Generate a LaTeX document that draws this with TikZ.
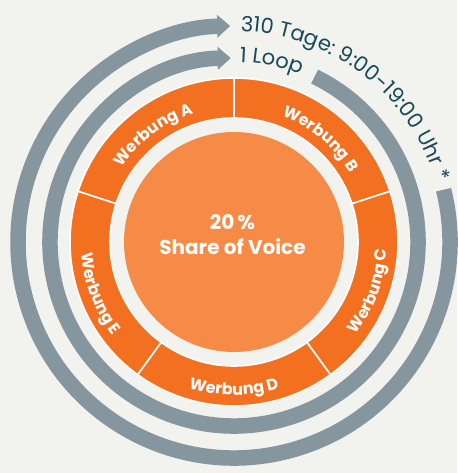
\documentclass[tikz,border=0pt]{standalone}
\usepackage{fontspec}
\setmainfont{Poppins}
\usetikzlibrary{arrows.meta,decorations.text}
\definecolor{bg}{HTML}{F2F2EE}
\definecolor{ringc}{HTML}{F37021}
\definecolor{corec}{HTML}{F68B47}
\definecolor{arcc}{HTML}{85969F}
\definecolor{ink}{HTML}{17495A}
\begin{document}
\begin{tikzpicture}[x=1pt,y=1pt,
  loopband/.style={draw=arcc, line width=15.5pt, -{Triangle[length=13pt,width=22pt]}},
  segment/.style={fill=ringc, draw=white, line width=1.6pt},
  seglabel/.style={decorate, decoration={text along path, text align=center,
     text={|\bfseries\fontsize{16}{16}\selectfont\color{white}|#1}}},
  arclabel/.style={decorate, decoration={text along path, text align=left,
     text={|\fontsize{21}{21}\selectfont\color{ink}|#1}}}]
\fill[bg] (0,0) rectangle (457,-473);
\useasboundingbox (0,0) rectangle (457,-473);
\coordinate (c) at (234,-242);
\begin{scope}[shift={(c)}]
  % ring segments
  \foreach \a/\b in {90/162, 18/90, -54/18, -126/-54, 162/234}
    \draw[segment] (\a:124) -- (\a:164) arc[start angle=\a, end angle=\b, radius=164]
      -- (\b:124) arc[start angle=\b, end angle=\a, radius=124] -- cycle;
  % core
  \node[circle, fill=corec, minimum size=220pt, inner sep=0pt] (core) at (0,0) {};
  \node[text=white, font=\bfseries\fontsize{20}{25}\selectfont, align=center] (sov) at (-1.5,7.5) {20\,\%\\Share of Voice};
  % segment labels
  \path[seglabel={Werbung A}] (163:135) arc[start angle=163, end angle=91, radius=135];
  \path[seglabel={Werbung B}] (86:135) arc[start angle=86, end angle=14, radius=135];
  \path[seglabel={Werbung C}] (-56:153) arc[start angle=-56, end angle=16, radius=153];
  \path[seglabel={Werbung D}] (-126:153) arc[start angle=-126, end angle=-54, radius=153];
  \path[seglabel={Werbung E}] (165:153) arc[start angle=165, end angle=237, radius=153];
  % loop arcs
  \draw[loopband] (64:184) arc[start angle=64, end angle=-269, radius=184];
  \draw[loopband] (14:216) arc[start angle=14, end angle=-269, radius=216];
  % arc texts
  \path[arclabel={1 Loop}] (88.2:180) arc[start angle=88.2, end angle=40, radius=180];
  \path[arclabel={310 Tage: 9:00-19:00 Uhr *}] (88.2:211) arc[start angle=88.2, end angle=0, radius=211];
\end{scope}
\end{tikzpicture}
\end{document}
